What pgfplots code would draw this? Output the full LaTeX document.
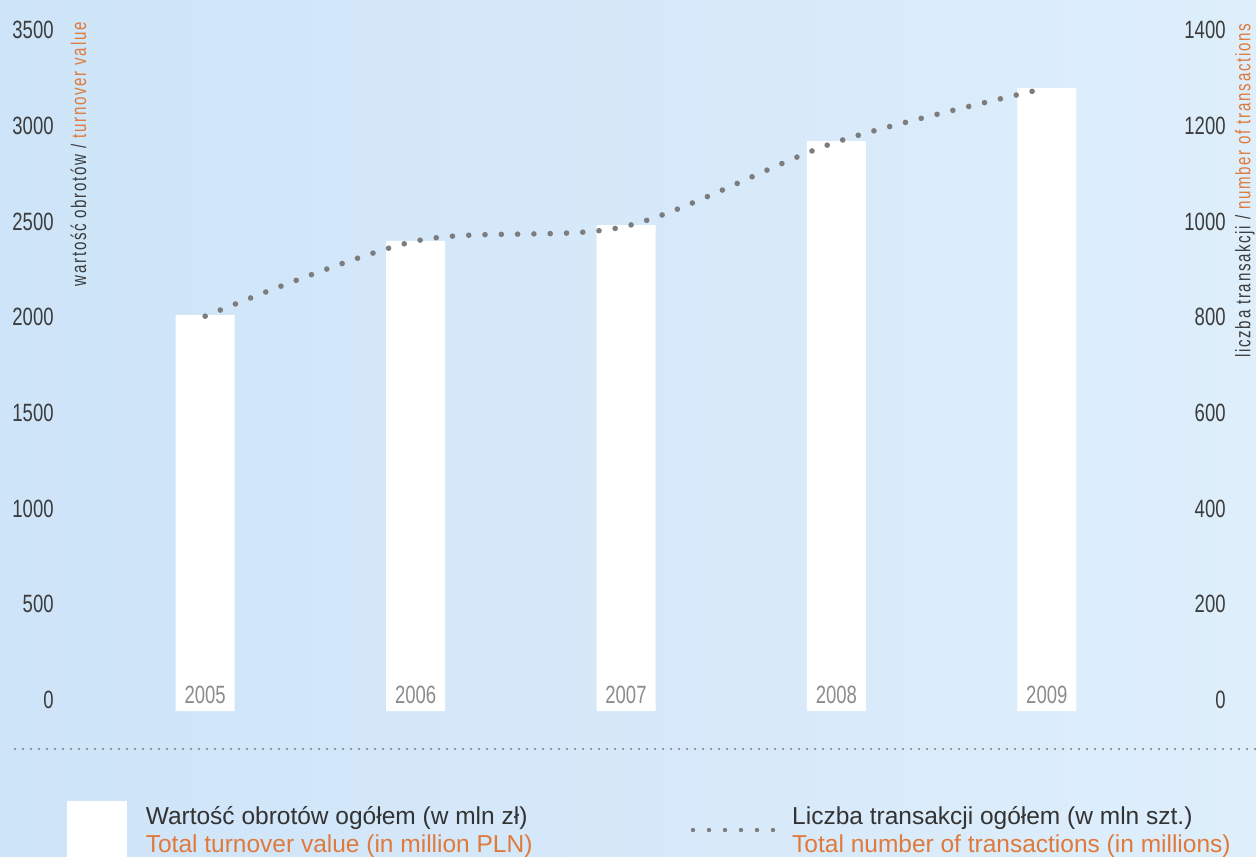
\documentclass[border=0pt]{standalone}
\usepackage{fontspec}
\setmainfont{Liberation Sans}
\newfontfamily\numfont{Liberation Sans}[FakeStretch=0.74]
\newfontfamily\labfont{Liberation Sans}[FakeStretch=0.72,LetterSpace=8]
\usepackage{pgfplots}
\pgfplotsset{compat=1.18}
\definecolor{bgL}{RGB}{206,228,248}
\definecolor{bgR}{RGB}{222,238,251}
\definecolor{numgray}{RGB}{60,60,60}
\definecolor{yeargray}{RGB}{140,140,140}
\definecolor{dotgray}{RGB}{125,125,125}
\definecolor{orng}{RGB}{224,122,60}
\definecolor{txt}{RGB}{51,51,51}
\pgfplotsset{
  common/.style={
    at={(50pt,72.5pt)}, anchor=south west, scale only axis,
    width=526pt, height=340.5pt, xmin=2004.5, xmax=2009.5,
    axis line style={draw=none}, tick style={draw=none}, major tick length=0pt,
    /pgf/number format/assume math mode=true, /pgf/number format/1000 sep={},
    scaled y ticks=false, clip=false, axis on top,
    yticklabel style={font=\numfont\fontsize{12.5}{14}\selectfont, text=numgray, inner sep=0pt, anchor=east},
  },
}
\begin{document}
\begin{tikzpicture}
\useasboundingbox (0,0) rectangle (628pt,428pt);
\shade[left color=bgL, right color=bgR] (0,0) rectangle (628pt,428pt);
\begin{axis}[common,
  ymin=-57.5, ymax=3500,
  ytick={0,500,...,3500},
  yticklabel style={xshift=-23pt},
  xtick={2005,2006,2007,2008,2009},
  xticklabels={2005,2006,2007,2008,2009},
  xticklabel style={font=\numfont\fontsize{12.5}{14}\selectfont, text=yeargray, anchor=south, inner sep=0pt, yshift=3.5pt},
]
\addplot[ybar, bar width=29.5pt, bar shift=0pt, fill=white, draw=none]
  coordinates {(2005,2011) (2006,2398) (2007,2481) (2008,2920) (2009,3197)};
\addplot[ybar, bar width=29.5pt, bar shift=0pt, fill=white, draw=none, forget plot]
  coordinates {(2005,-57.5) (2006,-57.5) (2007,-57.5) (2008,-57.5) (2009,-57.5)};
\end{axis}
\begin{axis}[common,
  ymin=-23, ymax=1400,
  ytick={0,200,...,1400},
  yticklabel pos=right,
  yticklabel style={xshift=37pt},
  xtick=\empty,
  legend columns=2,
  legend cell align=left,
  legend style={at={(-0.03137,-0.17474)}, anchor=west, draw=none, fill=none,
    inner sep=0pt, outer sep=0pt, nodes={inner sep=0pt, yshift=3.5pt},
    font=\fontsize{12.25}{14}\selectfont, text=txt,
    /tikz/column 1/.style={column sep=9.5pt},
    /tikz/column 3/.style={column sep=8.5pt}},
]
\addlegendimage{legend image code/.code={\fill[white] (0pt,-14.5pt) rectangle (29.5pt,14.5pt);}}
\addlegendentry{{\makebox[272.5pt][l]{\begin{tabular}{@{}l@{}}\color{txt}Wartość obrotów ogółem (w mln zł)\\\color{orng}Total turnover value (in million PLN)\end{tabular}}}}
\addplot[dotgray, line width=2.8pt, line cap=round, dash pattern=on 0pt off 8.15pt, smooth, mark=none,
  legend image code/.code={\draw[dotgray, line width=2.2pt, line cap=round, dash pattern=on 0pt off 8pt] (0pt,0pt) -- (40pt,0pt);}]
  coordinates {(2005,802) (2006,959) (2007,990) (2008,1166) (2009,1279)};
\addlegendentry{{\begin{tabular}{@{}l@{}}\color{txt}Liczba transakcji ogółem (w mln szt.)\\\color{orng}Total number of transactions (in millions)\end{tabular}}}
\end{axis}
\draw[dotgray, line width=1.2pt, line cap=round, dash pattern=on 0pt off 4pt] (7.5pt,53.5pt) -- (630pt,53.5pt);
\node[rotate=90, anchor=east, inner sep=0pt, font=\labfont\fontsize{10.5}{12}\selectfont] at (39.25pt,417pt)
  {\textcolor{numgray}{wartość obrotów /} \textcolor{orng}{turnover value}};
\node[rotate=90, anchor=west, inner sep=0pt, font=\labfont\fontsize{10.5}{12}\selectfont] at (622.5pt,249pt)
  {\textcolor{numgray}{liczba transakcji /} \textcolor{orng}{number of transactions}};
\end{tikzpicture}
\end{document}
